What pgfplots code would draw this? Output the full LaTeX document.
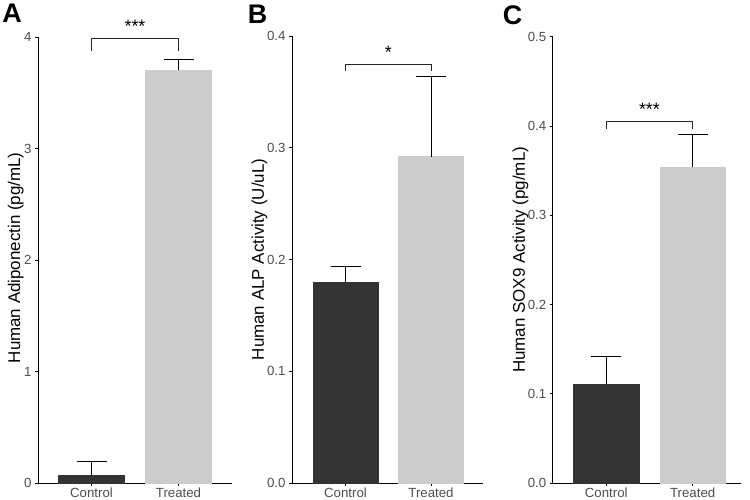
\documentclass[border=0pt]{standalone}
\usepackage{pgfplots}
\pgfplotsset{compat=1.18}
\usepackage{fontspec}
\setmainfont{Liberation Sans}
\definecolor{ctl}{HTML}{333333}
\definecolor{trt}{HTML}{CCCCCC}
\definecolor{tickgray}{HTML}{4D4D4D}
\pgfplotsset{
  panel/.style={
    scale only axis, anchor=south west,
    axis lines=left, axis line style={-, line width=0.9bp, black},
    ymin=0,
    xtick={1,2}, xticklabels={Control,Treated},
    tick align=outside, major tick length=3bp, tick style={line width=0.9bp, black},
    minor tick num=0,
    ticklabel style={font=\fontsize{13.3}{15}\selectfont, text=tickgray},
    xticklabel style={inner sep=1bp, yshift=-0.8bp},
    /pgf/number format/assume math mode=true,
    ylabel style={font=\fontsize{17}{20}\selectfont, anchor=center},
    clip=false,
    ybar, bar width=0.76, bar shift=0pt,
    error bars/y dir=plus, error bars/y explicit,
    error bars/error mark=|,
    error bars/error bar style={line width=0.9bp, black},
    error bars/error mark options={line width=0.9bp, black, mark size=15bp},
  },
}
\tikzset{
  brk/.style={line width=0.8bp, black!85},
  stars/.style={font=\fontsize{18}{20}\selectfont, anchor=base, yshift=6bp},
  plbl/.style={font=\fontsize{27}{30}\selectfont\bfseries},
}
\begin{document}
\begin{tikzpicture}[x=1bp,y=1bp]
\useasboundingbox (0,0) rectangle (750,500);
% Panel A
\begin{axis}[panel, at={(38bp,17bp)}, width=194bp, height=446bp,
  xmin=0.385, xmax=2.615, ymax=4, ytick={0,1,2,3,4},
  ylabel={Human Adiponectin (pg/mL)},
  ylabel style={at={(axis description cs:-0.115,0.505)}}]
\addplot[fill=ctl, draw=ctl] coordinates {(1,0.07) +- (0,0.12)};
\addplot[fill=trt, draw=trt] coordinates {(2,3.70) +- (0,0.10)};
\draw[brk] (axis cs:1,3.87) |- (axis cs:2,3.99) -- (axis cs:2,3.87);
\node[stars] at (axis cs:1.5,3.99) {***};
\end{axis}
% Panel B
\begin{axis}[panel, at={(292bp,17bp)}, width=191bp, height=447bp,
  xmin=0.374, xmax=2.608, ymax=0.4, ytick={0,0.1,0.2,0.3,0.4},
  yticklabel style={/pgf/number format/.cd, fixed, fixed zerofill, precision=1},
  ylabel={Human ALP Activity (U/uL)},
  ylabel style={at={(axis description cs:-0.170,0.5)}}]
\addplot[fill=ctl, draw=ctl] coordinates {(1,0.180) +- (0,0.014)};
\addplot[fill=trt, draw=trt] coordinates {(2,0.292) +- (0,0.072)};
\draw[brk] (axis cs:1,0.3685) |- (axis cs:2,0.3745) -- (axis cs:2,0.3685);
\node[stars] at (axis cs:1.5,0.3745) {*};
\end{axis}
% Panel C
\begin{axis}[panel, at={(552.7bp,17bp)}, width=188bp, height=446.3bp,
  xmin=0.38, xmax=2.556, ymax=0.5, ytick={0,0.1,0.2,0.3,0.4,0.5},
  yticklabel style={/pgf/number format/.cd, fixed, fixed zerofill, precision=1},
  ylabel={Human SOX9 Activity (pg/mL)},
  ylabel style={at={(axis description cs:-0.171,0.5)}}]
\addplot[fill=ctl, draw=ctl] coordinates {(1,0.111) +- (0,0.031)};
\addplot[fill=trt, draw=trt] coordinates {(2,0.354) +- (0,0.037)};
\draw[brk] (axis cs:1,0.397) |- (axis cs:2,0.405) -- (axis cs:2,0.397);
\node[stars] at (axis cs:1.5,0.405) {***};
\end{axis}
\node[plbl] at (12,487) {A};
\node[plbl] at (257.5,486) {B};
\node[plbl] at (512.5,485) {C};
\end{tikzpicture}
\end{document}
